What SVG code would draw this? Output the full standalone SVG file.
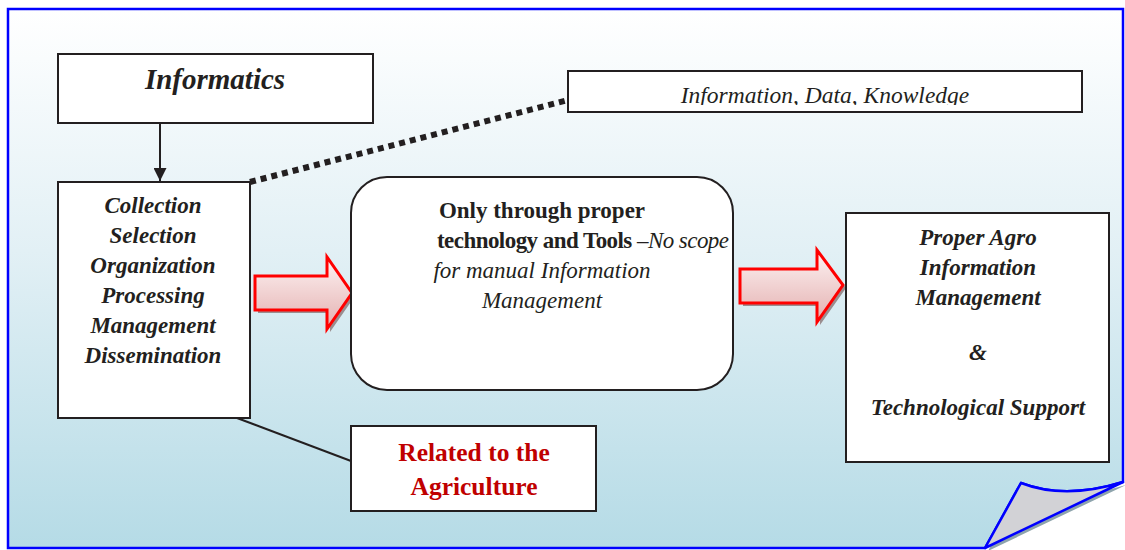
<svg xmlns="http://www.w3.org/2000/svg" width="1125" height="550" viewBox="0 0 1125 550">
<defs>
<linearGradient id="bg" x1="0" y1="0" x2="0" y2="1">
<stop offset="0" stop-color="#ffffff"/>
<stop offset="0.45" stop-color="#e2f0f5"/>
<stop offset="1" stop-color="#b5dbe6"/>
</linearGradient>
<linearGradient id="ar" x1="0" y1="0" x2="0" y2="1">
<stop offset="0" stop-color="#fdf3f3"/>
<stop offset="1" stop-color="#e4b0b0"/>
</linearGradient>
<marker id="ah" viewBox="0 0 10 10" refX="10" refY="5" markerWidth="6.5" markerHeight="6.5" orient="auto" markerUnits="strokeWidth">
<path d="M0,0 L10,5 L0,10 Z" fill="#231f20"/>
</marker>
<clipPath id="clipInfo"><rect x="568" y="71" width="514" height="34"/></clipPath>
</defs>
<style>
.box{fill:#ffffff;stroke:#231f20;stroke-width:2}
.line{fill:none;stroke:#231f20;stroke-width:2}
.bi{font-family:"Liberation Serif",serif;font-weight:bold;font-style:italic;fill:#231f20;text-anchor:middle}
.it{font-family:"Liberation Serif",serif;font-style:italic;fill:#231f20;text-anchor:middle}
.b{font-family:"Liberation Serif",serif;font-weight:bold;fill:#231f20;text-anchor:middle}
.red{fill:#c00000}
.arrow{fill:url(#ar);stroke:#ff0000;stroke-width:3;stroke-linejoin:miter}
.ashadow{fill:#9a8d8f}
</style>
<rect x="0" y="0" width="1125" height="550" fill="#ffffff"/>
<g id="page">
<path d="M1024,486 Q1068,503 1126,485 L988,551 Z" fill="#8ea4ac"/>
<path d="M8,9 H1123 V482 Q1065,500 1021,483 L985,548 H8 Z" fill="url(#bg)" stroke="#0000ff" stroke-width="2.5"/>
<path d="M1021,483 Q1065,500 1123,482 L985,548 Z" fill="#d2d2d6" stroke="#0000ff" stroke-width="2.5" stroke-linejoin="round"/>
</g>
<g id="connectors">
<line class="line" x1="160" y1="123" x2="160" y2="181" marker-end="url(#ah)"/>
<line x1="250" y1="182" x2="568" y2="100" stroke="#231f20" stroke-width="6" stroke-dasharray="6,5"/>
<line class="line" x1="237" y1="418" x2="351" y2="461"/>
<g id="arrow1">
<path class="ashadow" d="M258,279 H330 V260 L355,296 L330,332 V313 H258 Z"/>
<path class="arrow" d="M255,276 H327 V257 L352,293 L327,329 V310 H255 Z"/>
</g>
<g id="arrow2">
<path class="ashadow" d="M743,272 H820 V253 L846,288 L820,325 V306 H743 Z"/>
<path class="arrow" d="M740,269 H817 V250 L843,285 L817,322 V303 H740 Z"/>
</g>
</g>
<g id="informatics">
<rect class="box" x="58" y="54" width="315" height="69"/>
<text class="bi" x="215" y="89" font-size="29">Informatics</text>
</g>
<g id="info">
<rect class="box" x="568" y="71" width="514" height="41"/>
<text class="it" x="825" y="103" font-size="23.5" clip-path="url(#clipInfo)">Information, Data, Knowledge</text>
</g>
<g id="collection">
<rect class="box" x="58" y="182" width="192" height="236"/>
<text class="bi" x="153" y="213" font-size="23">Collection</text>
<text class="bi" x="153" y="243" font-size="23">Selection</text>
<text class="bi" x="153" y="273" font-size="23">Organization</text>
<text class="bi" x="153" y="303" font-size="23">Processing</text>
<text class="bi" x="153" y="333" font-size="23">Management</text>
<text class="bi" x="153" y="363" font-size="23">Dissemination</text>
</g>
<g id="technology">
<rect class="box" x="351" y="177" width="382" height="213" rx="36" ry="36"/>
<text class="b" x="542" y="218" font-size="23">Only through proper</text>
<text x="437" y="248" font-size="23" font-family="Liberation Serif,serif" fill="#231f20" textLength="292"><tspan font-weight="bold">technology and Tools </tspan><tspan font-style="italic">–No scope</tspan></text>
<text class="it" x="542" y="278" font-size="23">for manual Information</text>
<text class="it" x="542" y="308" font-size="23">Management</text>
</g>
<g id="proper">
<rect class="box" x="846" y="213" width="263" height="249"/>
<text class="bi" x="978" y="245" font-size="23">Proper Agro</text>
<text class="bi" x="978" y="275" font-size="23">Information</text>
<text class="bi" x="978" y="305" font-size="23">Management</text>
<text class="bi" x="978" y="360" font-size="23">&amp;</text>
<text class="bi" x="978" y="415" font-size="23">Technological Support</text>
</g>
<g id="related">
<rect class="box" x="351" y="426" width="245" height="85"/>
<text class="b red" x="474" y="461" font-size="25.5">Related to the</text>
<text class="b red" x="474" y="495" font-size="25.5">Agriculture</text>
</g>
</svg>
